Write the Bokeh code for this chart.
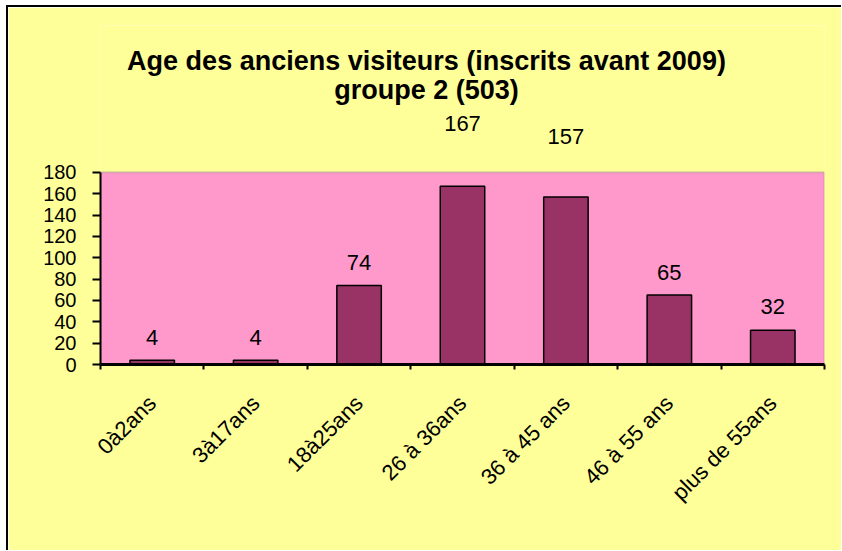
import math
from bokeh.plotting import figure
from bokeh.models import (Range1d, LinearAxis, FixedTicker, ColumnDataSource, LabelSet, Label,
                          BoxAnnotation)
from bokeh.core.properties import value
from bokeh.embed import file_html
from bokeh.resources import INLINE

# ---- data ----
categories = ["0à2ans", "3à17ans", "18à25ans", "26 à 36ans", "36 à 45 ans", "46 à 55 ans", "plus de 55ans"]
values = [4, 4, 74, 167, 157, 65, 32]
y_ticks = [0, 20, 40, 60, 80, 100, 120, 140, 160, 180]
y_max = 180
title_line1 = "Age des anciens visiteurs (inscrits avant 2009)"
title_line2 = "groupe 2 (503)"

# ---- styles / layout ----
label_offsets = [23, 23, 23, 63, 60, 23, 24]   # px above bar tops
FONT = "Liberation Sans"
YELLOW = "#FFFF99"
PINK = "#FF99CC"
BAR = "#993366"

# page pixel layout
CANVAS_LEFT, CANVAS_TOP = 8, 7
W, H = 833, 543
FRAME_L, FRAME_R = 100, 822
FRAME_T = 25            # frame extends above the plot area to hold outside labels/title
PLOT_T = 171            # top of the pink plot area
AXIS_Y = 362            # x axis line

n = len(categories)
centers = [i + 0.5 for i in range(n)]
y_end = y_max * (AXIS_Y - FRAME_T) / (AXIS_Y - PLOT_T)

p = figure(x_range=Range1d(0, n), y_range=Range1d(0, y_end),
           width=W, height=H, output_backend="svg", toolbar_location=None,
           x_axis_location=None, background_fill_color=YELLOW, border_fill_color=YELLOW,
           min_border_left=FRAME_L - CANVAS_LEFT,
           min_border_right=CANVAS_LEFT + W - FRAME_R,
           min_border_top=FRAME_T - CANVAS_TOP,
           min_border_bottom=CANVAS_TOP + H - AXIS_Y,
           styles={"margin-left": "6px", "margin-top": "5px",
                   "border-left": "2px solid black", "border-top": "2px solid black",
                   "box-sizing": "content-box"})
p.xgrid.grid_line_color = None
p.ygrid.grid_line_color = None
p.outline_line_color = None

# pink plot area
p.add_layout(BoxAnnotation(bottom=0, top=y_max, fill_color=PINK, fill_alpha=1.0,
                           line_color="#808080", line_width=2, level="underlay"))

src = ColumnDataSource(dict(x=centers, y=values, text=[str(v) for v in values], off=label_offsets))
p.vbar(x="x", top="y", width=0.43, source=src, fill_color=BAR, line_color="black", line_width=1.5)

labels = LabelSet(x="x", y="y", text="text", y_offset="off", source=src,
                  text_align="center", text_baseline="middle",
                  text_font=value(FONT), text_font_size=value("22px"), text_color="black")
p.add_layout(labels)

# y axis
ya = p.yaxis[0]
ya.bounds = (0, y_max)
ya.ticker = FixedTicker(ticks=y_ticks)
ya.major_label_text_font = FONT
ya.major_label_text_font_size = "20px"
ya.major_label_text_color = "black"
ya.major_tick_out = 8
ya.major_tick_in = 0
ya.major_tick_line_width = 2
ya.minor_tick_line_color = None
ya.axis_line_width = 2
ya.major_label_standoff = 16

# x axis: names at category centers, tick marks at category boundaries (minor ticks)
xa = LinearAxis(ticker=FixedTicker(ticks=centers, minor_ticks=list(range(n + 1))),
                major_label_overrides={c: name for c, name in zip(centers, categories)},
                major_label_orientation=math.pi / 4,
                axis_line_width=3, axis_line_color="black",
                major_tick_line_color=None, major_tick_out=0, major_tick_in=0,
                minor_tick_line_color="black", minor_tick_line_width=2,
                minor_tick_out=5, minor_tick_in=0,
                major_label_text_font=FONT, major_label_text_font_size="22px",
                major_label_text_color="black", major_label_standoff=30)
p.add_layout(xa, "below")

# title (two lines), positioned in frame-relative screen pixels
title_cx = 426 - FRAME_L
for txt, base in ((title_line1, 58), (title_line2, 87)):
    p.add_layout(Label(x=title_cx, y=AXIS_Y - base, x_units="screen", y_units="screen", text=txt,
                       text_align="center", text_baseline="alphabetic",
                       text_font=FONT, text_font_size="27px", text_font_style="bold",
                       text_color="black"))

open("out.html", "w").write(file_html(p, INLINE))
